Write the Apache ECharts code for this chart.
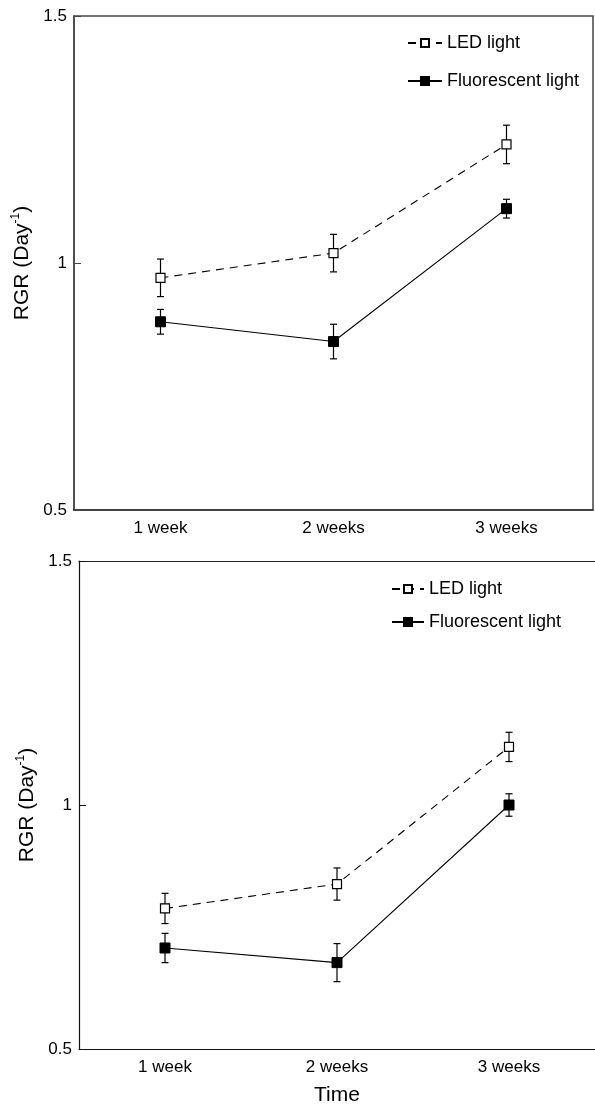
<!DOCTYPE html>
<html>
<head>
<meta charset="utf-8">
<script src="https://cdn.jsdelivr.net/npm/echarts@6/dist/echarts.min.js"></script>
<style>
html,body{margin:0;padding:0;background:#fff;}
#chart{width:595px;height:1107px;}
</style>
</head>
<body>
<div id="chart"></div>
<script>
var categories = ['1 week', '2 weeks', '3 weeks'];
var yTicks = [0.5, 1, 1.5];
// top panel
var ledTop = [0.970, 1.020, 1.240];
var ledTopErr = [0.038, 0.038, 0.039];
var fluTop = [0.881, 0.841, 1.110];
var fluTopErr = [0.025, 0.035, 0.019];
// bottom panel
var ledBot = [0.788, 0.838, 1.119];
var ledBotErr = [0.031, 0.033, 0.030];
var fluBot = [0.707, 0.677, 1.000];
var fluBotErr = [0.030, 0.039, 0.023];

var FONT = 'Liberation Sans, Arial, sans-serif';

function errData(vals, errs) {
  return vals.map(function (v, i) { return [i, v - errs[i], v + errs[i]]; });
}
function errSeries(vals, errs, gi) {
  return {
    type: 'custom', xAxisIndex: gi, yAxisIndex: gi, z: 1, silent: true,
    data: errData(vals, errs),
    renderItem: function (params, api) {
      var lo = api.coord([api.value(0), api.value(1)]);
      var hi = api.coord([api.value(0), api.value(2)]);
      var c = 3.5;
      var st = { stroke: '#000', lineWidth: 1.2 };
      return { type: 'group', children: [
        { type: 'line', shape: { x1: lo[0], y1: lo[1], x2: hi[0], y2: hi[1] }, style: st },
        { type: 'line', shape: { x1: lo[0] - c, y1: lo[1], x2: lo[0] + c, y2: lo[1] }, style: st },
        { type: 'line', shape: { x1: hi[0] - c, y1: hi[1], x2: hi[0] + c, y2: hi[1] }, style: st }
      ]};
    }
  };
}
function ledSeries(vals, gi) {
  return {
    name: 'LED light', type: 'line', xAxisIndex: gi, yAxisIndex: gi, z: 3,
    data: vals, symbol: 'rect', symbolSize: 9,
    lineStyle: { color: '#000', width: 1.1, type: [8, 6] },
    itemStyle: { color: '#fff', borderColor: '#000', borderWidth: 1.2 },
    emphasis: { disabled: true }
  };
}
function fluSeries(vals, gi) {
  return {
    name: 'Fluorescent light', type: 'line', xAxisIndex: gi, yAxisIndex: gi, z: 3,
    data: vals, symbol: 'rect', symbolSize: 10,
    lineStyle: { color: '#000', width: 1.1, type: 'solid' },
    itemStyle: { color: '#000', borderColor: '#000', borderWidth: 1 },
    emphasis: { disabled: true }
  };
}
function xAxis(gi, color, width, withName) {
  return {
    type: 'category', gridIndex: gi, data: categories, boundaryGap: true,
    axisLine: { lineStyle: { color: color, width: width } },
    axisTick: { inside: true, alignWithLabel: true, length: 5, lineStyle: { color: color, width: 1 } },
    axisLabel: { color: '#000', fontSize: 17, fontFamily: FONT, margin: 10 },
    name: withName ? 'Time' : '', nameLocation: 'middle', nameGap: 36,
    nameTextStyle: { color: '#000', fontSize: 21, fontFamily: FONT },
    splitLine: { show: false }
  };
}
function yAxis(gi, color, width, gap) {
  return {
    type: 'value', gridIndex: gi, min: yTicks[0], max: yTicks[yTicks.length - 1], interval: 0.5,
    axisLine: { show: true, lineStyle: { color: color, width: width } },
    axisTick: { show: true, inside: true, length: 7, lineStyle: { color: color, width: 1 } },
    axisLabel: { color: '#000', fontSize: 17, fontFamily: FONT, margin: 7 },
    splitLine: { show: false },
    name: '{m|RGR (Day}{s|-1}{m|)}', nameLocation: 'middle', nameGap: gap, nameRotate: 90,
    nameTextStyle: {
      rich: {
        m: { fontSize: 21, fontFamily: FONT, color: '#000', lineHeight: 24 },
        s: { fontSize: 12, fontFamily: FONT, color: '#000', verticalAlign: 'top', lineHeight: 24 }
      }
    }
  };
}
function legend(left, top, gap, w) {
  return {
    orient: 'vertical', left: left, top: top, itemGap: gap, itemWidth: w, itemHeight: 10,
    padding: 0, selectedMode: false,
    data: ['LED light', 'Fluorescent light'],
    textStyle: { color: '#000', fontSize: 18, fontFamily: FONT }
  };
}

var chart = echarts.init(document.getElementById('chart'), null, { renderer: 'canvas' });
chart.setOption({
  animation: false,
  backgroundColor: '#fff',
  grid: [
    { left: 74, top: 16, width: 519, height: 494, show: true, borderColor: '#444', borderWidth: 1.5, backgroundColor: 'transparent' },
    { left: 79, top: 561, width: 517, height: 491 }
  ],
  legend: [legend(407, 34, 20, 34), legend(391, 580, 15, 32)],
  xAxis: [
    xAxis(0, '#333', 1.5, false),
    xAxis(1, '#111', 1.2, true),
    { type: 'category', gridIndex: 1, data: categories, position: 'top',
      axisLine: { lineStyle: { color: '#222', width: 1.2 } }, axisTick: { show: false }, axisLabel: { show: false } }
  ],
  yAxis: [yAxis(0, '#444', 1.5, 33), yAxis(1, '#111', 1.2, 37)],
  series: [
    errSeries(ledTop, ledTopErr, 0),
    errSeries(fluTop, fluTopErr, 0),
    ledSeries(ledTop, 0),
    fluSeries(fluTop, 0),
    errSeries(ledBot, ledBotErr, 1),
    errSeries(fluBot, fluBotErr, 1),
    ledSeries(ledBot, 1),
    fluSeries(fluBot, 1)
  ]
});
</script>
</body>
</html>
